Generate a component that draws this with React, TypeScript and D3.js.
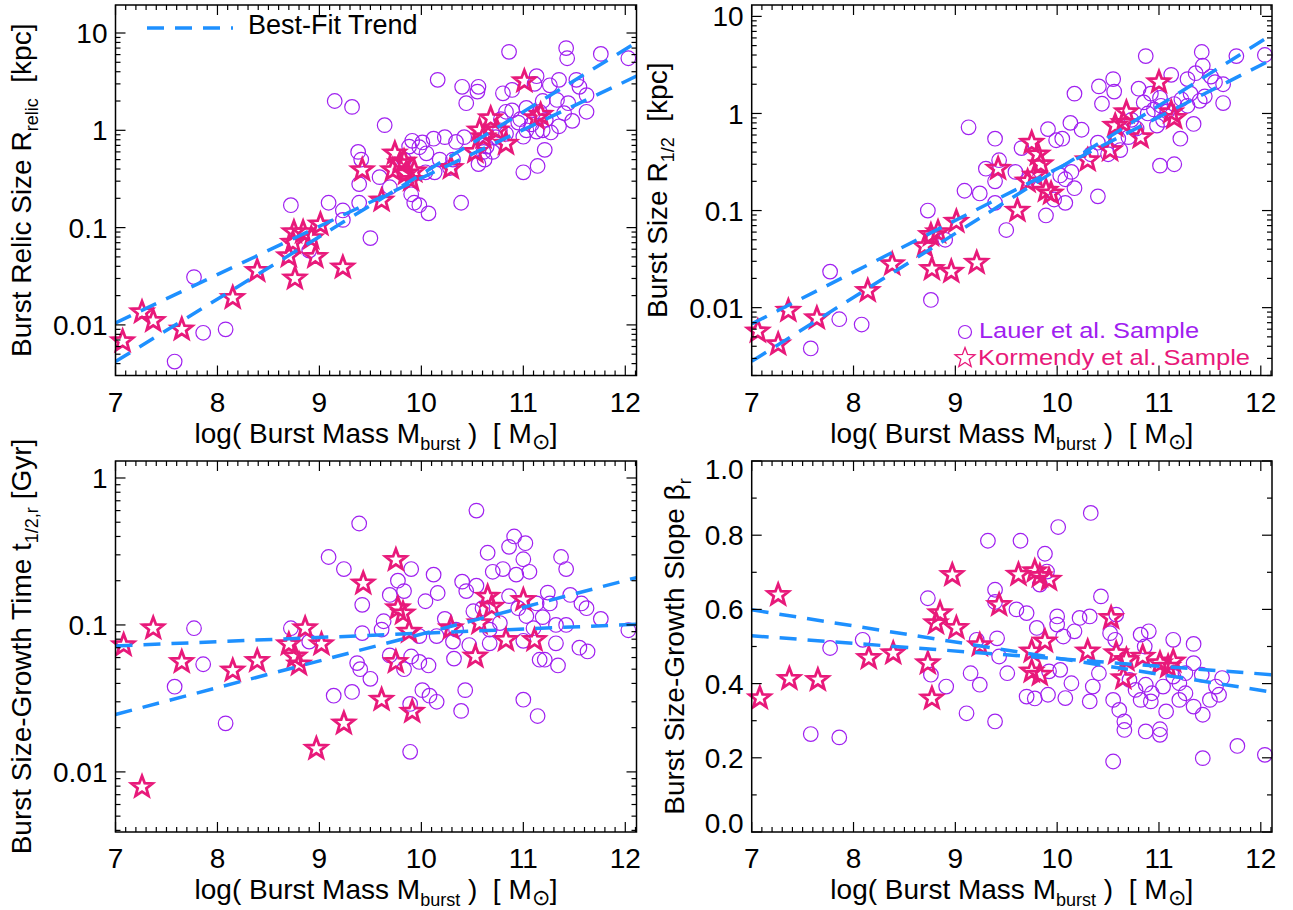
import React from 'react';
import * as d3 from 'd3';

type P = [number, number];

// ---------- data ----------
const xTickValues = [7, 8, 9, 10, 11, 12];
const logTickLabels = ['0.01', '0.1', '1', '10'];
const slopeTickValues = [0, 0.2, 0.4, 0.6, 0.8, 1.0];
const slopeTickLabels = ['0.0', '0.2', '0.4', '0.6', '0.8', '1.0'];

const relicKormendy: P[] = [
  [7.07, 0.0068], [7.26, 0.0135], [7.37, 0.011], [7.65, 0.009], [8.15, 0.019], [8.39, 0.036],
  [8.70, 0.051], [8.76, 0.030], [8.75, 0.09], [8.84, 0.09], [8.92, 0.078], [8.74, 0.07],
  [8.96, 0.05], [9.01, 0.108], [9.23, 0.039], [9.42, 0.39], [9.61, 0.19], [9.72, 0.39],
  [9.74, 0.58], [9.79, 0.46], [9.83, 0.48], [9.85, 0.36], [9.90, 0.31], [9.93, 0.38],
  [10.29, 0.41], [10.53, 0.60], [10.57, 1.0], [10.61, 0.85], [10.68, 1.33], [10.74, 1.0],
  [10.83, 0.73], [11.01, 3.2], [11.13, 1.33], [11.17, 1.45],
];

const relicLauer: P[] = [
  [7.58, 0.0042], [7.77, 0.031], [7.86, 0.0083], [8.08, 0.009], [8.72, 0.17], [8.90, 0.058],
  [9.09, 0.18], [9.23, 0.15], [9.23, 0.12], [9.15, 2.0], [9.32, 1.74], [9.50, 0.078],
  [10.86, 6.4], [11.42, 7.0], [11.43, 5.5], [11.76, 6.1], [12.03, 5.5], [10.16, 3.3],
  [10.40, 2.8], [10.56, 2.8], [10.55, 2.5], [10.44, 1.9], [9.64, 1.13], [10.80, 2.4],
  [10.89, 2.6], [11.13, 3.6], [11.11, 3.0], [11.26, 2.9], [11.35, 3.3], [11.52, 3.3],
  [11.55, 2.8], [11.62, 2.3], [11.62, 1.55], [11.44, 1.9], [11.33, 2.05], [11.19, 2.0],
  [11.03, 1.7], [10.89, 1.6], [10.83, 1.55], [10.97, 1.3], [11.16, 1.55], [11.22, 1.28],
  [11.35, 1.1], [11.03, 1.0], [11.13, 0.97], [11.19, 1.0], [11.0, 0.86], [11.21, 0.63],
  [11.14, 0.43], [11.0, 0.37], [10.77, 1.0], [10.73, 0.85], [10.64, 0.68], [10.61, 0.6],
  [10.56, 0.45], [10.70, 0.6], [10.83, 0.92], [10.42, 0.85], [10.34, 0.76], [10.23, 0.85],
  [10.12, 0.82], [10.01, 0.75], [9.91, 0.78], [9.98, 0.67], [10.05, 0.58], [10.18, 0.5],
  [10.31, 0.5], [10.28, 0.41], [10.13, 0.37], [10.04, 0.37], [10.39, 0.18], [9.90, 0.22],
  [9.93, 0.18], [9.98, 0.17], [10.07, 0.14], [9.38, 0.6], [9.41, 0.5], [9.39, 0.28],
  [9.39, 0.18], [9.59, 0.33], [9.69, 0.26], [9.88, 0.68], [9.83, 0.5], [10.95, 1.2],
  [11.08, 1.15], [11.40, 1.5], [11.48, 1.25], [11.27, 0.95], [10.78, 1.3], [10.62, 0.5],
];

const sizeKormendy: P[] = [
  [7.06, 0.0057], [7.26, 0.0042], [7.36, 0.0093], [7.64, 0.0078], [8.14, 0.0149], [8.38, 0.028],
  [8.70, 0.043], [8.76, 0.056], [8.83, 0.06], [9.01, 0.077], [8.77, 0.025], [8.96, 0.0235],
  [9.21, 0.029], [9.42, 0.27], [9.61, 0.10], [9.71, 0.20], [9.75, 0.50], [9.81, 0.38],
  [9.84, 0.30], [9.78, 0.23], [9.89, 0.16], [9.94, 0.15], [10.30, 0.33], [10.52, 0.42],
  [10.57, 0.75], [10.65, 0.80], [10.68, 1.03], [10.82, 0.57], [11.0, 2.1], [11.12, 1.03],
  [11.15, 0.9],
];

const sizeLauer: P[] = [
  [7.58, 0.0038], [7.77, 0.0235], [7.86, 0.0076], [8.08, 0.0067], [8.76, 0.012], [8.73, 0.10],
  [9.13, 0.72], [9.09, 0.16], [8.90, 0.05], [10.87, 3.9], [11.42, 4.3], [11.43, 3.1],
  [11.76, 3.9], [12.04, 4.0], [10.17, 1.6], [10.41, 1.9], [10.55, 2.26], [10.56, 1.68],
  [10.44, 1.26], [10.80, 1.8], [10.92, 1.6], [11.12, 2.5], [11.28, 2.26], [11.36, 2.6],
  [11.51, 2.4], [11.55, 2.1], [11.63, 2.0], [11.63, 1.28], [11.45, 1.5], [11.31, 1.6],
  [11.22, 1.4], [11.01, 1.45], [10.85, 1.3], [11.02, 1.2], [11.15, 1.25], [11.28, 1.2],
  [11.34, 0.78], [11.21, 0.55], [11.01, 0.29], [11.15, 0.3], [11.04, 0.86], [10.89, 1.0],
  [10.73, 0.86], [10.70, 0.57], [10.60, 0.55], [10.40, 0.5], [10.33, 0.38], [10.24, 0.68],
  [10.13, 0.8], [10.05, 0.55], [9.99, 0.53], [9.91, 0.69], [10.14, 0.25], [10.08, 0.21],
  [10.17, 0.17], [10.03, 0.23], [9.97, 0.13], [10.08, 0.12], [10.40, 0.14], [9.89, 0.089],
  [9.50, 0.063], [9.39, 0.55], [9.43, 0.33], [9.39, 0.2], [9.30, 0.27], [9.24, 0.15],
  [9.39, 0.12], [9.65, 0.44], [9.72, 0.21], [9.59, 0.25], [10.95, 1.1], [11.08, 1.05],
  [10.78, 0.7], [10.62, 0.42], [10.50, 0.38], [11.40, 1.35], [10.98, 0.75],
];

const timeKormendy: P[] = [
  [7.08, 0.073], [7.26, 0.0079], [7.37, 0.095], [7.65, 0.056], [8.15, 0.049], [8.39, 0.057],
  [8.70, 0.074], [8.76, 0.061], [8.80, 0.054], [8.86, 0.095], [9.02, 0.074], [8.97, 0.0144],
  [9.24, 0.0214], [9.43, 0.192], [9.61, 0.031], [9.75, 0.277], [9.77, 0.13], [9.82, 0.12],
  [9.88, 0.09], [9.75, 0.056], [9.91, 0.0257], [10.29, 0.095], [10.53, 0.061], [10.65, 0.156],
  [10.69, 0.133], [10.57, 0.103], [10.83, 0.079], [11.0, 0.148], [11.11, 0.079],
];

const timeLauer: P[] = [
  [7.58, 0.038], [7.77, 0.095], [7.86, 0.054], [8.08, 0.0214], [8.72, 0.095], [8.90, 0.077],
  [9.09, 0.29], [9.24, 0.24], [9.14, 0.033], [9.32, 0.035], [9.39, 0.49], [9.42, 0.137],
  [9.42, 0.088], [9.37, 0.055], [9.40, 0.05], [9.50, 0.043], [9.61, 0.093], [9.63, 0.106],
  [9.69, 0.062], [9.89, 0.0137], [9.89, 0.029], [10.54, 0.6], [10.65, 0.31], [10.91, 0.40],
  [11.02, 0.36], [10.86, 0.34], [11.0, 0.28], [11.37, 0.29], [11.42, 0.24], [9.90, 0.24],
  [10.12, 0.22], [9.77, 0.2], [9.83, 0.17], [9.69, 0.16], [10.04, 0.145], [10.16, 0.165],
  [10.40, 0.197], [10.44, 0.17], [10.54, 0.185], [10.70, 0.23], [10.80, 0.24], [10.93, 0.22],
  [11.06, 0.23], [10.86, 0.157], [11.13, 0.14], [11.24, 0.166], [11.26, 0.14], [11.46, 0.16],
  [11.57, 0.14], [11.62, 0.13], [11.76, 0.11], [12.03, 0.092], [11.03, 0.115], [11.19, 0.113],
  [11.32, 0.1], [11.42, 0.1], [10.23, 0.11], [10.34, 0.093], [10.51, 0.124], [10.67, 0.093],
  [10.77, 0.103], [9.98, 0.084], [10.15, 0.084], [10.31, 0.077], [10.47, 0.073], [10.67, 0.075],
  [11.0, 0.078], [11.32, 0.075], [11.55, 0.07], [11.63, 0.066], [9.90, 0.061], [9.98, 0.056],
  [10.07, 0.053], [9.83, 0.05], [10.32, 0.059], [11.16, 0.058], [11.21, 0.058], [11.34, 0.053],
  [10.01, 0.036], [10.08, 0.033], [10.15, 0.03], [10.43, 0.036], [10.39, 0.026], [11.0, 0.031],
  [11.14, 0.024], [10.95, 0.13], [11.10, 0.095], [10.60, 0.13],
];

const slopeKormendy: P[] = [
  [7.08, 0.361], [7.26, 0.639], [7.37, 0.413], [7.65, 0.41], [8.15, 0.469], [8.39, 0.482],
  [8.73, 0.455], [8.77, 0.36], [8.81, 0.563], [8.85, 0.59], [9.01, 0.55], [8.97, 0.693],
  [9.24, 0.504], [9.43, 0.612], [9.62, 0.694], [9.78, 0.703], [9.83, 0.69], [9.92, 0.68],
  [9.75, 0.487], [9.88, 0.514], [9.75, 0.433], [9.83, 0.424], [10.53, 0.577], [10.30, 0.487],
  [10.58, 0.482], [10.65, 0.415], [10.68, 0.464], [10.84, 0.473], [11.01, 0.455], [11.14, 0.46],
  [11.09, 0.446],
];

const slopeLauer: P[] = [
  [7.58, 0.264], [7.86, 0.255], [7.77, 0.496], [8.09, 0.518], [8.73, 0.63], [8.76, 0.424],
  [8.91, 0.392], [9.11, 0.32], [9.15, 0.428], [9.24, 0.397], [9.32, 0.785], [9.39, 0.653],
  [9.39, 0.62], [9.41, 0.522], [9.43, 0.473], [9.39, 0.298], [9.51, 0.428], [9.64, 0.785],
  [9.60, 0.6], [9.70, 0.59], [9.80, 0.55], [9.70, 0.365], [9.78, 0.36], [10.33, 0.86],
  [10.01, 0.822], [9.88, 0.75], [9.90, 0.702], [9.83, 0.667], [10.43, 0.635], [10.0, 0.581],
  [10.0, 0.559], [10.06, 0.527], [10.17, 0.541], [10.22, 0.577], [10.32, 0.581], [10.58, 0.586],
  [10.52, 0.536], [10.57, 0.518], [10.82, 0.532], [10.90, 0.541], [10.86, 0.5], [11.14, 0.518],
  [11.34, 0.507], [9.21, 0.518], [9.92, 0.433], [10.03, 0.437], [10.14, 0.401], [9.91, 0.37],
  [10.08, 0.361], [10.32, 0.352], [10.35, 0.392], [10.41, 0.428], [10.55, 0.356], [10.61, 0.329],
  [10.66, 0.298], [10.66, 0.275], [10.71, 0.41], [10.77, 0.383], [10.87, 0.397], [10.93, 0.374],
  [10.82, 0.356], [10.92, 0.352], [10.87, 0.271], [11.01, 0.277], [11.01, 0.262], [11.07, 0.325],
  [11.2, 0.401], [11.26, 0.374], [11.2, 0.356], [11.34, 0.338], [11.43, 0.316], [11.42, 0.424],
  [11.34, 0.455], [11.62, 0.415], [11.56, 0.392], [11.59, 0.37], [11.5, 0.356], [10.55, 0.19],
  [11.43, 0.199], [11.77, 0.232], [12.04, 0.208], [11.14, 0.419], [11.04, 0.392], [11.26, 0.428],
];

// best-fit trends (two dashed lines per panel), values at the axis ends
const relicTrendSteep: P[] = [[7, 0.0042], [12.11, 8.0]];
const relicTrendShallow: P[] = [[7, 0.0105], [12.11, 3.6]];
const sizeTrendSteep: P[] = [[7, 0.0028], [12.11, 6.5]];
const sizeTrendShallow: P[] = [[7, 0.0068], [12.11, 3.6]];
const timeTrendSteep: P[] = [[7, 0.0246], [12.11, 0.21]];
const timeTrendShallow: P[] = [[7, 0.072], [12.11, 0.101]];
const slopeTrendSteep: P[] = [[7, 0.599], [12.11, 0.377]];
const slopeTrendShallow: P[] = [[7, 0.529], [12.11, 0.424]];

// ---------- style ----------
const PURPLE = '#A020F0';
const PINK = '#E8197A';
const BLUE = '#1E90FF';
const FONT = '"Liberation Sans", Arial, Helvetica, sans-serif';
const TICK_FS = 28;
const SUB_FS = 18;

type Box = { l: number; r: number; t: number; b: number };

function starPath(R: number, ratio: number): string {
  const pts: string[] = [];
  for (let i = 0; i < 10; i++) {
    const a = -Math.PI / 2 + (i * Math.PI) / 5;
    const rr = i % 2 === 0 ? R : R * ratio;
    pts.push(`${(rr * Math.cos(a)).toFixed(2)},${(rr * Math.sin(a)).toFixed(2)}`);
  }
  return 'M' + pts.join('L') + 'Z';
}
const STAR = starPath(11, 0.42);
const STAR_SMALL = starPath(10.5, 0.42);

interface PanelProps {
  id: string;
  box: Box;
  yLog: boolean;
  yDomain: [number, number];
  yTicks: number[];
  yLabels: string[];
  yMinor: number[];
  yTitle: React.ReactNode;
  yTitleOffset: number;
  lauer: P[];
  kormendy: P[];
  trends: P[][];
  edgeShift?: boolean;
}

function logMinorTicks(domain: [number, number]): number[] {
  const out: number[] = [];
  const d0 = Math.floor(Math.log10(domain[0]));
  const d1 = Math.ceil(Math.log10(domain[1]));
  for (let d = d0; d <= d1; d++) {
    for (let m = 2; m <= 9; m++) {
      const v = m * Math.pow(10, d);
      if (v >= domain[0] && v <= domain[1]) out.push(v);
    }
  }
  return out;
}

const xDomain: [number, number] = [7, 12.11];

function XTitle({ box }: { box: Box }) {
  return (
    <text x={(box.l + box.r) / 2} y={box.b + 67} textAnchor="middle" fontSize={TICK_FS}
      fontFamily={FONT} style={{ whiteSpace: 'pre' }}>
      <tspan>log( Burst Mass M</tspan>
      <tspan fontSize={SUB_FS} dy={7}>burst</tspan>
      <tspan dy={-7}> )  [ M</tspan>
      <tspan fontSize={22} dy={6}>⊙</tspan>
      <tspan dy={-6}>]</tspan>
    </text>
  );
}

function Panel(p: PanelProps) {
  const { box } = p;
  const x = d3.scaleLinear().domain(xDomain).range([box.l, box.r]);
  const y = p.yLog
    ? d3.scaleLog().domain(p.yDomain).range([box.b, box.t])
    : d3.scaleLinear().domain(p.yDomain).range([box.b, box.t]);
  const line = d3.line<P>().x((d) => x(d[0])).y((d) => y(d[1]));
  const xMinor = d3.range(70, 122).map((v) => v / 10).filter((v) => Math.abs(v - Math.round(v)) > 1e-6);
  const MAJ = 10;
  const MIN = 5;
  const tickStroke = { stroke: '#000', strokeWidth: 1.2 };
  const cy = (box.t + box.b) / 2;
  const tx = box.l - p.yTitleOffset;
  return (
    <g>
      <defs>
        <clipPath id={`clip-${p.id}`}>
          <rect x={box.l} y={box.t} width={box.r - box.l} height={box.b - box.t} />
        </clipPath>
      </defs>
      {/* Lauer circles */}
      <g>
        {p.lauer.map((d, i) => (
          <circle key={i} cx={x(d[0])} cy={y(d[1])} r={7.3} fill="none" stroke={PURPLE} strokeWidth={1.2} />
        ))}
      </g>
      {/* Kormendy stars */}
      <g>
        {p.kormendy.map((d, i) => (
          <path key={i} d={STAR} transform={`translate(${x(d[0])},${y(d[1])})`} fill="none"
            stroke={PINK} strokeWidth={2.8} strokeLinejoin="miter" />
        ))}
      </g>
      {/* trends */}
      <g clipPath={`url(#clip-${p.id})`}>
        {p.trends.map((t, i) => (
          <path key={i} d={line(t) || ''} fill="none" stroke={BLUE} strokeWidth={3.5} strokeDasharray="17,11" />
        ))}
      </g>
      {/* frame */}
      <rect x={box.l} y={box.t} width={box.r - box.l} height={box.b - box.t} fill="none" stroke="#000" strokeWidth={1.5} />
      {/* x ticks */}
      {xTickValues.map((v) => (
        <g key={`xm${v}`}>
          <line x1={x(v)} x2={x(v)} y1={box.b} y2={box.b - MAJ} {...tickStroke} />
          <line x1={x(v)} x2={x(v)} y1={box.t} y2={box.t + MAJ} {...tickStroke} />
          <text x={x(v)} y={box.b + 36} textAnchor="middle" fontSize={TICK_FS} fontFamily={FONT}>{v}</text>
        </g>
      ))}
      {xMinor.map((v) => (
        <g key={`xn${v}`}>
          <line x1={x(v)} x2={x(v)} y1={box.b} y2={box.b - MIN} {...tickStroke} />
          <line x1={x(v)} x2={x(v)} y1={box.t} y2={box.t + MIN} {...tickStroke} />
        </g>
      ))}
      {/* y ticks */}
      {p.yTicks.map((v, i) => {
        let shift = 0;
        if (p.edgeShift && i === 0) shift = -9;
        if (p.edgeShift && i === p.yTicks.length - 1) shift = 8;
        return (
          <g key={`ym${i}`}>
            <line x1={box.l} x2={box.l + MAJ} y1={y(v)} y2={y(v)} {...tickStroke} />
            <line x1={box.r} x2={box.r - MAJ} y1={y(v)} y2={y(v)} {...tickStroke} />
            <text x={box.l - 8} y={y(v) + shift} dy="0.36em" textAnchor="end" fontSize={TICK_FS} fontFamily={FONT}>
              {p.yLabels[i]}
            </text>
          </g>
        );
      })}
      {p.yMinor.map((v, i) => (
        <g key={`yn${i}`}>
          <line x1={box.l} x2={box.l + MIN} y1={y(v)} y2={y(v)} {...tickStroke} />
          <line x1={box.r} x2={box.r - MIN} y1={y(v)} y2={y(v)} {...tickStroke} />
        </g>
      ))}
      <XTitle box={box} />
      <text transform={`translate(${tx},${cy}) rotate(-90)`} textAnchor="middle" fontSize={TICK_FS}
        fontFamily={FONT} style={{ whiteSpace: 'pre' }}>
        {p.yTitle}
      </text>
    </g>
  );
}

const boxTL: Box = { l: 115.5, r: 636.5, t: 5, b: 375.5 };
const boxTR: Box = { l: 751.7, r: 1272, t: 5, b: 375.5 };
const boxBL: Box = { l: 115.5, r: 636.5, t: 461, b: 832 };
const boxBR: Box = { l: 751.7, r: 1272, t: 461, b: 832 };

export default function App() {
  const relicDomain: [number, number] = [0.00302, 19.4];
  const sizeDomain: [number, number] = [0.002, 13.1];
  const timeDomain: [number, number] = [0.0039, 1.305];
  const slopeMinor = [0.1, 0.3, 0.5, 0.7, 0.9];
  return (
    <svg width={1293} height={910} viewBox="0 0 1293 910"
      style={{ position: 'absolute', left: 0, top: 0, display: 'block', background: '#fff' }}>
      <rect x={0} y={0} width={1293} height={910} fill="#fff" />
      <Panel id="tl" box={boxTL} yLog yDomain={relicDomain} yTicks={[0.01, 0.1, 1, 10]} yLabels={logTickLabels}
        yMinor={logMinorTicks(relicDomain)} yTitleOffset={84.5}
        yTitle={<>
          <tspan>Burst Relic Size R</tspan>
          <tspan fontSize={SUB_FS} dy={7}>relic</tspan>
          <tspan dy={-7}>  [kpc]</tspan>
        </>}
        lauer={relicLauer} kormendy={relicKormendy} trends={[relicTrendSteep, relicTrendShallow]} />
      <Panel id="tr" box={boxTR} yLog yDomain={sizeDomain} yTicks={[0.01, 0.1, 1, 10]} yLabels={logTickLabels}
        yMinor={logMinorTicks(sizeDomain)} yTitleOffset={84.5}
        yTitle={<>
          <tspan>Burst Size R</tspan>
          <tspan fontSize={SUB_FS} dy={7}>1/2</tspan>
          <tspan dy={-7}>  [kpc]</tspan>
        </>}
        lauer={sizeLauer} kormendy={sizeKormendy} trends={[sizeTrendSteep, sizeTrendShallow]} />
      <Panel id="bl" box={boxBL} yLog yDomain={timeDomain} yTicks={[0.01, 0.1, 1]} yLabels={logTickLabels.slice(0, 3)}
        yMinor={logMinorTicks(timeDomain)} yTitleOffset={84.5}
        yTitle={<>
          <tspan>Burst Size-Growth Time t</tspan>
          <tspan fontSize={SUB_FS} dy={7}>1/2,r</tspan>
          <tspan dy={-7}> [Gyr]</tspan>
        </>}
        lauer={timeLauer} kormendy={timeKormendy} trends={[timeTrendSteep, timeTrendShallow]} />
      <Panel id="br" box={boxBR} yLog={false} yDomain={[0, 1]} yTicks={slopeTickValues} yLabels={slopeTickLabels}
        yMinor={slopeMinor} yTitleOffset={68} edgeShift
        yTitle={<>
          <tspan>Burst Size-Growth Slope β</tspan>
          <tspan fontSize={SUB_FS} dy={7}>r</tspan>
        </>}
        lauer={slopeLauer} kormendy={slopeKormendy} trends={[slopeTrendSteep, slopeTrendShallow]} />

      {/* legend: best-fit trend (top-left) */}
      <line x1={147} x2={233} y1={28} y2={28} stroke={BLUE} strokeWidth={3.5} strokeDasharray="17,11" />
      <text x={248} y={34} fontSize={27} fontFamily={FONT}>Best-Fit Trend</text>

      {/* legend: samples (top-right) */}
      <circle cx={965} cy={332} r={6.5} fill="none" stroke={PURPLE} strokeWidth={1.2} />
      <text x={979} y={338} fontSize={22.5} fontFamily={FONT} fill={PURPLE} textLength={220}
        lengthAdjust="spacingAndGlyphs">Lauer et al. Sample</text>
      <path d={STAR_SMALL} transform="translate(965,358)" fill="none" stroke={PINK} strokeWidth={1.3} />
      <text x={978} y={365} fontSize={22.5} fontFamily={FONT} fill={PINK} textLength={272}
        lengthAdjust="spacingAndGlyphs">Kormendy et al. Sample</text>
    </svg>
  );
}
